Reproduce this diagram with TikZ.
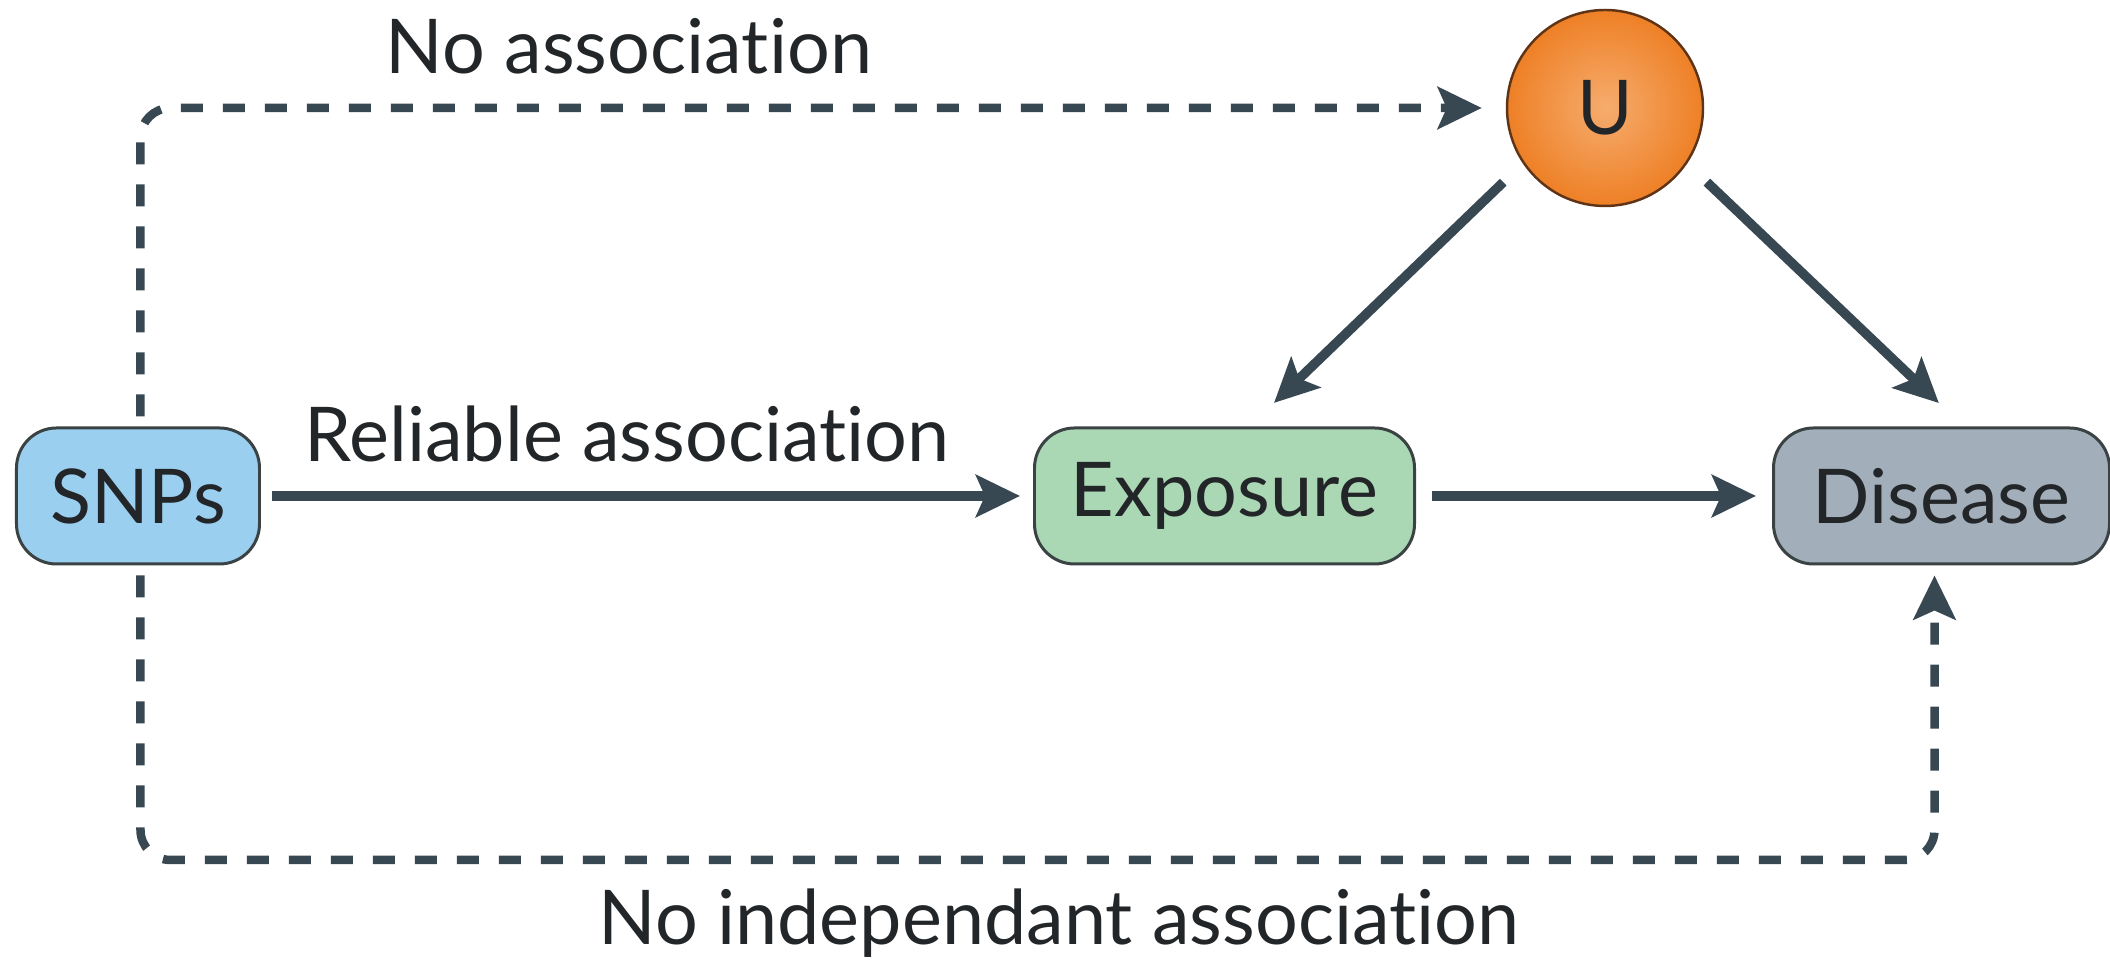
\documentclass[tikz,border=0pt]{standalone}
\usepackage{fontspec}
\setmainfont{Lato}[Ligatures=NoCommon]
\usepackage{xcolor}
\definecolor{ink}{RGB}{35,38,40}
\definecolor{edge}{RGB}{58,66,68}
\definecolor{arrowgrey}{RGB}{55,72,82}
\definecolor{snpblue}{RGB}{155,207,240}
\definecolor{exposuregreen}{RGB}{170,215,180}
\definecolor{diseasegrey}{RGB}{162,175,186}
\definecolor{uorange}{RGB}{238,128,38}
\definecolor{ulight}{RGB}{246,172,110}
\definecolor{ubrown}{RGB}{95,52,22}
\usepackage{tikz}
\usetikzlibrary{arrows.meta}
\newcommand{\heightbox}{1.36cm}
\newcommand{\widthsnps}{2.43cm}
\newcommand{\widthexposure}{3.80cm}
\newcommand{\widthdisease}{3.36cm}
\tikzset{
    common/.style={anchor=west, draw=edge, line width=0.85pt, rounded corners=0.4cm,
        minimum height=\heightbox, text=ink, font=\fontsize{21.5}{25}\selectfont},
    snpbox/.style={common, fill=snpblue, minimum width=\widthsnps},
    exposurebox/.style={common, fill=exposuregreen, minimum width=\widthexposure},
    diseasebox/.style={common, fill=diseasegrey, minimum width=\widthdisease},
    confounder/.style={circle, draw=ubrown, line width=0.7pt, minimum size=1.96cm,
        inner color=ulight, outer color=uorange, text=ink, font=\fontsize{21.5}{25}\selectfont},
    tip/.style={-{Stealth[length=0.44cm, width=0.42cm, inset=0.09cm]}},
    causal/.style={tip, arrowgrey, line width=0.095cm},
    noassoc/.style={tip, arrowgrey, line width=0.085cm, dash pattern=on 0.22cm off 0.2cm,
        rounded corners=0.3cm},
    caption/.style={text=ink, font=\fontsize{21.5}{25}\selectfont, anchor=base}
}

\begin{document}
\begin{tikzpicture}
      \useasboundingbox (0,0) rectangle (21.1,9.65);

      \path
          (0.15,4.69) node[snpbox] (snps) {SNPs}
          to ++(0:10.18) node[exposurebox] (exposure) {Exposure}
          to ++(0:7.39) node[diseasebox] (disease) {Disease};
      \node[confounder] (u) at (16.05,8.57) {U};

      \coordinate (bottomrail) at (0,1.05);

      % measured paths
      \draw[causal, shorten <=0.11cm, shorten >=0.13cm] (snps) -- (exposure);
      \draw[causal, shorten <=0.16cm, shorten >=0.16cm] (exposure) -- (disease);
      \draw[causal, shorten <=0.27cm, shorten >=0.34cm] (u.214) -- ([xshift=0.25cm]exposure.north);
      \draw[causal, shorten <=0.27cm, shorten >=0.34cm] (u.-34) -- ([xshift=0.22cm]disease.north);

      % unmeasured paths
      \draw[noassoc, shorten <=0.1cm, shorten >=0.24cm] ([xshift=0.025cm]snps.north) |- (u);
      \draw[noassoc, shorten <=0.1cm, shorten >=0.1cm] ([xshift=0.025cm]snps.south)
          |- ([xshift=-0.07cm]bottomrail -| disease) -- ([xshift=-0.07cm]disease.south);

      \node[caption] (lbl-none) at (6.29,8.91) {No association};
      \node[caption] (lbl-reliable) at (6.27,5.03) {Reliable association};
      \node[caption] (lbl-indep) at (10.59,0.20) {No independant association};
  \end{tikzpicture}
\end{document}
